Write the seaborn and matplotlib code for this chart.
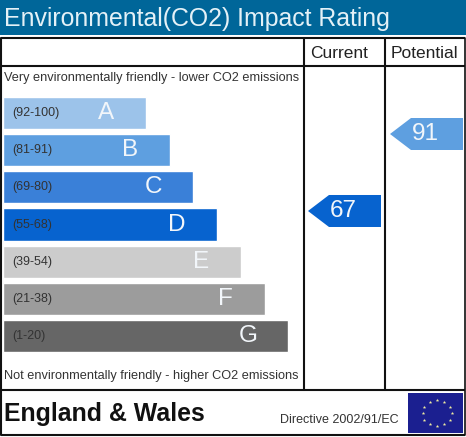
import numpy as np
import pandas as pd
import matplotlib
matplotlib.use("Agg")
import matplotlib.pyplot as plt
from matplotlib.patches import Polygon, Rectangle
import seaborn as sns

# values
bands = ["A", "B", "C", "D", "E", "F", "G"]
ranges = ["(92-100)", "(81-91)", "(69-80)", "(55-68)", "(39-54)", "(21-38)", "(1-20)"]
bar_lengths = [143, 167, 190, 214, 238, 262, 285]
bar_colors = ["#9cc3ea", "#5e9fe0", "#3a80d8", "#0763cf", "#cccccc", "#9c9c9c", "#666666"]

current_rating = 67
potential_rating = 91

title = "Environmental(CO2) Impact Rating"
col_labels = ["Current", "Potential"]
top_note = "Very environmentally friendly - lower CO2 emissions"
bottom_note = "Not environmentally friendly - higher CO2 emissions"
region = "England & Wales"
directive = "Directive 2002/91/EC"

W, H = 466, 437

sns.set_theme(style="white")
plt.rcParams["font.family"] = ["Liberation Sans", "DejaVu Sans"]

fig = plt.figure(figsize=(W / 100, H / 100), dpi=100)

# full-size axes in pixels, for the frame and the texts
bg = fig.add_axes([0, 0, 1, 1])
bg.set_xlim(0, W)
bg.set_ylim(H, 0)
bg.axis("off")

# header
bg.add_patch(Rectangle((0, 0), W, 35, color="#006699", lw=0))
bg.text(4, 19, title, fontsize=17.9, color="#e4f1f7", va="center", ha="left")

# table lines
for y in [38, 66, 390, 435]:
    bg.plot([1, 465], [y, y], color="#111111", lw=1.5, solid_capstyle="butt")
bg.plot([1, 1], [38, 435], color="#111111", lw=1.5)
bg.plot([465, 465], [38, 435], color="#111111", lw=1.2)
for x in [304, 385]:
    bg.plot([x, x], [38, 390], color="#111111", lw=1.5)

bg.text(339, 53, col_labels[0], fontsize=12.5, color="#222222", ha="center", va="center")
bg.text(424, 53, col_labels[1], fontsize=12.5, color="#222222", ha="center", va="center")

bg.text(4, 78, top_note, fontsize=9.15, color="#333333", va="center")
bg.text(4, 376, bottom_note, fontsize=9.15, color="#333333", va="center")

# bars
df = pd.DataFrame({"band": bands, "length": bar_lengths})
ax = fig.add_axes([3 / W, 1 - 354.6 / H, 300 / W, 260.2 / H])
ax.patch.set_alpha(0)
sns.barplot(data=df, x="length", y="band", hue="band", palette=bar_colors, saturation=1,
            legend=False, width=0.865, ax=ax)
ax.set_xlim(0, 300)
ax.axis("off")

for i, (rng, band, length) in enumerate(zip(ranges, bands, bar_lengths)):
    ax.text(9, i, rng, fontsize=9, color="#333333", va="center", ha="left")
    ax.text(length - 40, i, band, fontsize=17.5, color="#f2f6fa", va="center", ha="center")


# rating pointers, height follows the rating
def pointer(x0, x1, rating, color):
    yc = 134 + (91 - rating) * 3.208
    bg.add_patch(Polygon([(x0, yc), (x0 + 21, yc - 16), (x1, yc - 16), (x1, yc + 16), (x0 + 21, yc + 16)],
                         closed=True, color=color, lw=0))
    bg.text((x0 + x1) / 2 - 1.5, yc, str(rating), fontsize=17.5, color="#f2f6fa", ha="center", va="center")


pointer(308, 381, current_rating, bar_colors[3])
pointer(390, 463, potential_rating, bar_colors[1])

# footer
bg.text(4, 414, region, fontsize=17.9, fontweight="bold", color="#111111", va="center")
bg.text(280, 420, directive, fontsize=9, color="#333333", va="center")

# EU flag
bg.add_patch(Rectangle((408, 393), 55, 40, color="#1b1f90", lw=0))
ang = np.linspace(0, 2 * np.pi, 12, endpoint=False)
bg.scatter(437 + 14.5 * np.cos(ang), 413 + 13 * np.sin(ang), marker="*", s=7, color="#f0eca0", lw=0)

fig.savefig("out.png", dpi=100)
